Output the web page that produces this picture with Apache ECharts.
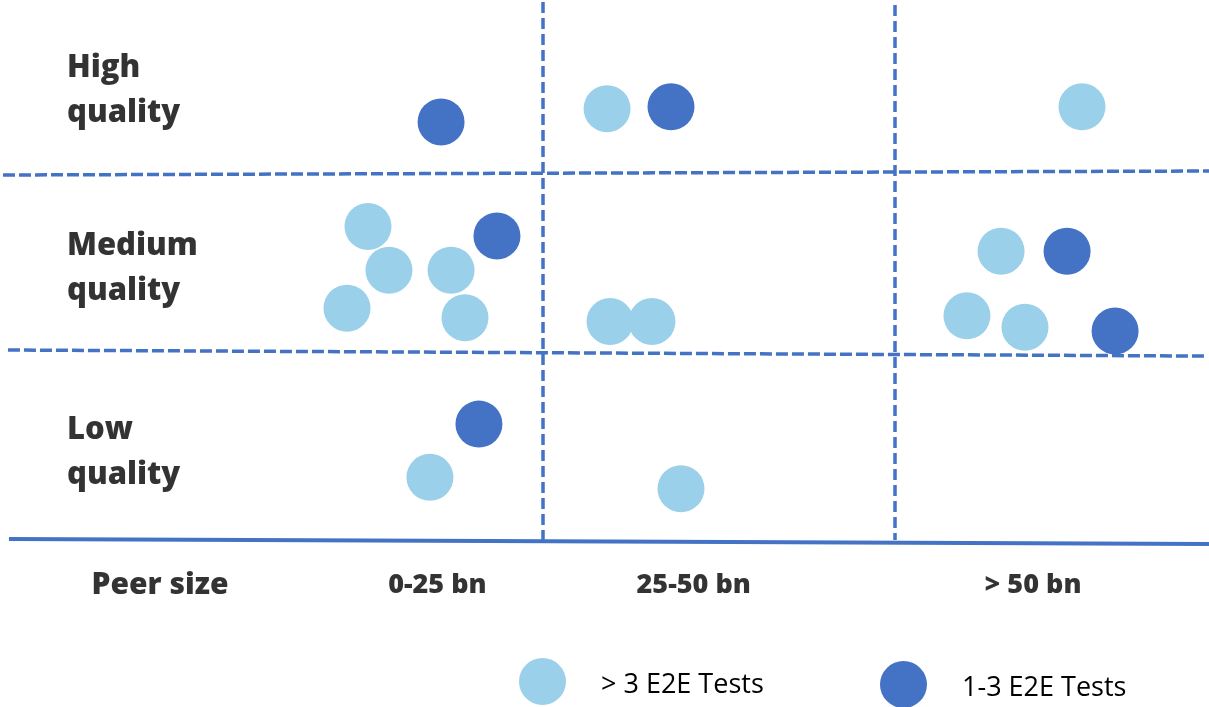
<!DOCTYPE html>
<html>
<head>
<meta charset="utf-8">
<script src="https://cdn.jsdelivr.net/npm/echarts@6/dist/echarts.min.js"></script>
<style>
  html, body { margin: 0; padding: 0; background: #ffffff; }
  #chart { width: 1209px; height: 707px; }
</style>
</head>
<body>
<div id="chart"></div>
<script>
// x: peer size (bn), y: quality score (0 = bottom, 1 = low/medium boundary)
const seriesNames = ['> 3 E2E Tests', '1-3 E2E Tests'];
const manyTests = [
  [29.55, 2.27], [63.28, 2.28],
  [12.57, 1.65], [14.06, 1.42], [18.47, 1.42], [11.08, 1.22], [19.46, 1.17],
  [29.76, 1.15], [32.74, 1.15],
  [57.53, 1.52], [55.11, 1.18], [59.23, 1.12],
  [16.97, 0.33], [34.80, 0.27]
];
const fewTests = [
  [17.76, 2.20], [34.09, 2.28],
  [21.73, 1.60], [62.22, 1.52], [65.63, 1.10],
  [20.45, 0.61]
];
const columnLabels = ['0-25 bn', '25-50 bn', '> 50 bn'];
const columnLabelX = [17.5, 35.7, 59.8];
const rowLabels = ['High\nquality', 'Medium\nquality', 'Low\nquality'];
const rowLabelY = [2.365, 1.43, 0.46];
const axisTitle = 'Peer size';
// boundary lines (slightly slanted)
const qualityBoundaryHigh = [[-13.35, 1.921], [72.3, 1.942]];
const qualityBoundaryLow = [[-13.0, 1.0], [72.0, 0.968]];
const sizeBoundary25 = [[25, 2.832], [25, 0]];
const sizeBoundary50 = [[50, 2.816], [50, 0]];
const baseLine = [[-12.93, 0.005], [72.3, -0.021]];

const LIGHT = '#9BD0EA';
const DARK = '#4472C4';
const FONT = '"Open Sans", "Noto Sans", sans-serif';

const chart = echarts.init(document.getElementById('chart'), null, { renderer: 'canvas' });

function boundary(data, dash, width) {
  return {
    type: 'line', data: data, symbol: 'none', silent: true, z: 1,
    lineStyle: { color: DARK, width: width, type: dash }
  };
}

function labelSeries(points, fontSize, align, position) {
  return {
    type: 'scatter', silent: true, symbolSize: 0, z: 5,
    data: points,
    label: {
      show: true, position: position, distance: 0,
      formatter: p => p.data.name,
      fontFamily: FONT, fontWeight: 800, fontSize: fontSize,
      color: '#000', align: align, lineHeight: 45
    }
  };
}

const legendText = {
  fontFamily: FONT, fontSize: 27, color: '#000',
  rich: { t: { fontFamily: FONT, fontSize: 27, color: '#000', padding: [7, 0, 0, 30] } }
};

const option = {
  backgroundColor: '#ffffff',
  animation: false,
  grid: { left: 0, right: 0, top: 0, bottom: 0 },
  xAxis: { type: 'value', min: -13.565, max: 72.3, show: false },
  yAxis: { type: 'value', min: -0.8789, max: 2.842, show: false },
  legend: [
    {
      data: [seriesNames[0]], left: 519, top: 658, padding: 0,
      icon: 'circle', itemWidth: 47, itemHeight: 47, textStyle: legendText,
      formatter: n => '{t|' + n + '}'
    },
    {
      data: [seriesNames[1]], left: 880, top: 661, padding: 0,
      icon: 'circle', itemWidth: 47, itemHeight: 47, textStyle: legendText,
      formatter: n => '{t|' + n + '}'
    }
  ],
  series: [
    boundary(qualityBoundaryHigh, [12, 4], 3.5),
    boundary(qualityBoundaryLow, [12, 4], 3.5),
    boundary(sizeBoundary25, [11, 5], 3.5),
    boundary(sizeBoundary50, [11, 5], 3.5),
    boundary(baseLine, 'solid', 4),
    {
      name: seriesNames[0], type: 'scatter', data: manyTests,
      symbol: 'circle', symbolSize: 47, z: 3,
      itemStyle: { color: LIGHT, opacity: 1 }
    },
    {
      name: seriesNames[1], type: 'scatter', data: fewTests,
      symbol: 'circle', symbolSize: 47, z: 3,
      itemStyle: { color: DARK, opacity: 1 }
    },
    labelSeries(columnLabels.map((t, i) => ({ name: t, value: [columnLabelX[i], -0.24] })), 27, 'center', 'inside'),
    labelSeries([{ name: axisTitle, value: [-2.2, -0.24] }], 30, 'center', 'inside'),
    labelSeries(rowLabels.map((t, i) => ({ name: t, value: [-8.81, rowLabelY[i]] })), 31, 'left', 'right')
  ]
};
chart.setOption(option);
</script>
</body>
</html>
